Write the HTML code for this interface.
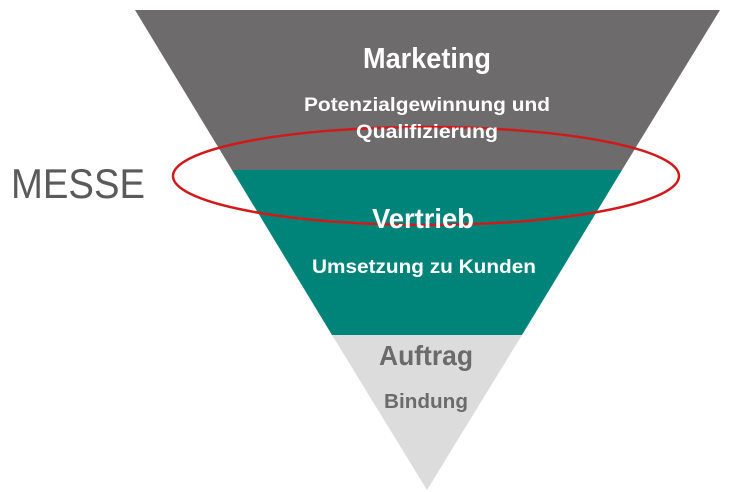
<!DOCTYPE html>
<html><head><meta charset="utf-8"><style>
html,body{margin:0;padding:0;background:#fff;}
svg{display:block;}
text{font-family:"Liberation Sans Narrow","Liberation Sans",sans-serif;}
</style></head><body>
<svg width="745" height="492" viewBox="0 0 745 492" xmlns="http://www.w3.org/2000/svg">
<polygon points="135,10 720,10 622,170 232,170" fill="#6d6b6c"/>
<polygon points="232,170 622,170 522,335 332,335" fill="#00847a"/>
<polygon points="332,335 522,335 427,490" fill="#dcdcdc"/>
<ellipse cx="426" cy="176" rx="253" ry="49" fill="none" stroke="#d01a1a" stroke-width="2.5"/>
<g font-weight="bold" text-anchor="middle">
<text x="427" y="68" font-size="29" fill="#fff" textLength="128" lengthAdjust="spacingAndGlyphs">Marketing</text>
<text x="427" y="111" font-size="19" fill="#fff" textLength="246" lengthAdjust="spacingAndGlyphs">Potenzialgewinnung und</text>
<text x="427" y="138" font-size="19" fill="#fff" textLength="142" lengthAdjust="spacingAndGlyphs">Qualifizierung</text>
<text x="423" y="228" font-size="28" fill="#fff" textLength="102" lengthAdjust="spacingAndGlyphs">Vertrieb</text>
<text x="424" y="273" font-size="19" fill="#fff" textLength="224" lengthAdjust="spacingAndGlyphs">Umsetzung zu Kunden</text>
<text x="426" y="365" font-size="28" fill="#6b6b6b" textLength="94" lengthAdjust="spacingAndGlyphs">Auftrag</text>
<text x="426" y="408" font-size="20" fill="#6b6b6b" textLength="84" lengthAdjust="spacingAndGlyphs">Bindung</text>
</g>
<text x="11" y="198" font-size="42" fill="#5a5a5a" textLength="134" lengthAdjust="spacingAndGlyphs">MESSE</text>
</svg>
</body></html>
